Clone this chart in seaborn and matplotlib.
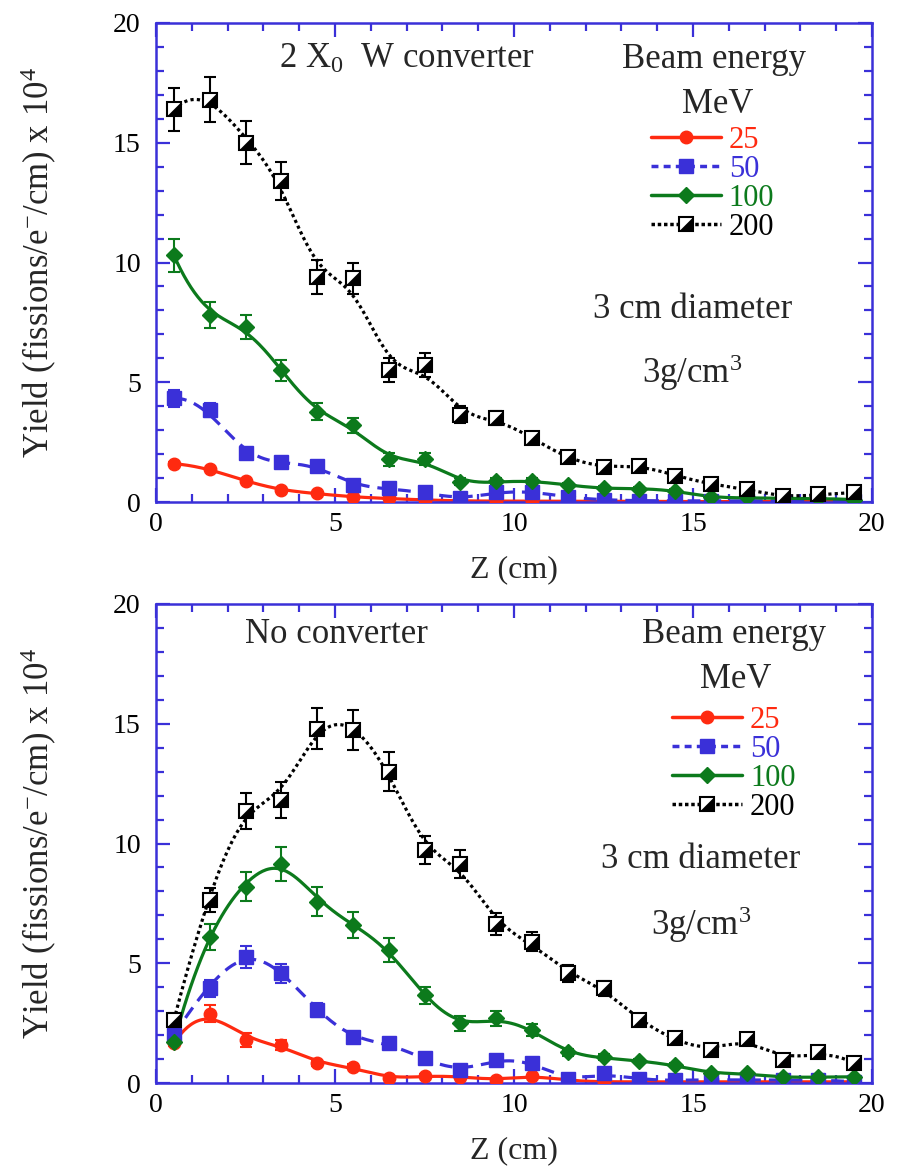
import numpy as np
import pandas as pd
import seaborn as sns
import matplotlib
matplotlib.use("Agg")
import matplotlib.pyplot as plt
from matplotlib.lines import Line2D
from matplotlib.legend_handler import HandlerTuple
from matplotlib.ticker import MultipleLocator

# ---------------- data ----------------
z = [0.5, 1.5, 2.5, 3.5, 4.5, 5.5, 6.5, 7.5, 8.5, 9.5,
     10.5, 11.5, 12.5, 13.5, 14.5, 15.5, 16.5, 17.5, 18.5, 19.5]
energies = ["25", "50", "100", "200"]

# top panel: 2 X0 W converter
top_25 = [1.6, 1.37, 0.88, 0.52, 0.36, 0.22, 0.15, 0.09, 0.05, 0.04,
          0.04, 0.03, 0.03, 0.03, 0.02, 0.02, 0.02, 0.02, 0.02, 0.02]
top_25_err = [0.08, 0.07, 0.06, 0.05, 0.04, 0.03, 0.03, 0.02, 0.02, 0.02,
              0.02, 0.02, 0.02, 0.02, 0.02, 0.02, 0.02, 0.02, 0.02, 0.02]
top_50 = [4.33, 3.84, 2.03, 1.68, 1.5, 0.73, 0.57, 0.41, 0.15, 0.4,
          0.42, 0.2, 0.1, 0.06, 0.05, 0.05, 0.05, 0.05, 0.05, 0.04]
top_50_err = [0.35, 0.3, 0.2, 0.15, 0.12, 0.1, 0.08, 0.07, 0.06, 0.1,
              0.1, 0.08, 0.06, 0.05, 0.05, 0.05, 0.05, 0.05, 0.05, 0.05]
top_100 = [10.3, 7.8, 7.3, 5.5, 3.77, 3.2, 1.78, 1.8, 0.85, 0.87,
           0.87, 0.71, 0.57, 0.56, 0.47, 0.2, 0.19, 0.15, 0.15, 0.1]
top_100_err = [0.7, 0.55, 0.5, 0.45, 0.35, 0.32, 0.28, 0.25, 0.15, 0.15,
               0.12, 0.1, 0.08, 0.08, 0.07, 0.05, 0.05, 0.05, 0.05, 0.05]
top_200 = [16.4, 16.8, 15.0, 13.4, 9.4, 9.35, 5.5, 5.72, 3.65, 3.5,
           2.67, 1.87, 1.47, 1.52, 1.1, 0.75, 0.55, 0.24, 0.33, 0.4]
top_200_err = [0.9, 0.95, 0.9, 0.8, 0.7, 0.65, 0.5, 0.5, 0.35, 0.3,
               0.25, 0.2, 0.15, 0.15, 0.12, 0.1, 0.1, 0.08, 0.08, 0.08]

# bottom panel: no converter
bot_25 = [1.66, 2.9, 1.8, 1.59, 0.85, 0.68, 0.22, 0.3, 0.27, 0.13,
          0.3, 0.1, 0.06, 0.05, 0.05, 0.05, 0.05, 0.05, 0.05, 0.05]
bot_25_err = [0.1, 0.35, 0.3, 0.2, 0.12, 0.1, 0.06, 0.06, 0.05, 0.04,
              0.05, 0.03, 0.03, 0.03, 0.03, 0.03, 0.03, 0.03, 0.03, 0.03]
bot_50 = [2.0, 3.95, 5.27, 4.58, 3.05, 1.93, 1.66, 1.03, 0.54, 0.96,
          0.85, 0.15, 0.4, 0.15, 0.12, 0.14, 0.12, 0.12, 0.12, 0.05]
bot_50_err = [0.1, 0.35, 0.45, 0.4, 0.3, 0.2, 0.15, 0.1, 0.08, 0.1,
              0.1, 0.05, 0.06, 0.05, 0.05, 0.05, 0.05, 0.05, 0.05, 0.05]
bot_100 = [1.73, 6.1, 8.2, 9.14, 7.57, 6.6, 5.55, 3.67, 2.49, 2.7,
           2.21, 1.28, 1.08, 0.92, 0.74, 0.42, 0.4, 0.24, 0.26, 0.26]
bot_100_err = [0.15, 0.55, 0.6, 0.7, 0.6, 0.55, 0.5, 0.35, 0.3, 0.3,
               0.25, 0.15, 0.12, 0.1, 0.08, 0.06, 0.06, 0.05, 0.05, 0.05]
bot_200 = [2.63, 7.64, 11.37, 11.8, 14.8, 14.74, 13.0, 9.73, 9.14, 6.65,
           5.9, 4.58, 3.95, 2.63, 1.87, 1.38, 1.85, 0.98, 1.31, 0.82]
bot_200_err = [0.3, 0.5, 0.75, 0.75, 0.85, 0.85, 0.8, 0.6, 0.6, 0.45,
               0.4, 0.35, 0.3, 0.2, 0.15, 0.12, 0.12, 0.1, 0.1, 0.08]

# ---------------- style ----------------
sns.set_theme(style="ticks")
plt.rcParams["font.family"] = ["Liberation Serif", "DejaVu Serif"]
plt.rcParams["mathtext.fontset"] = "custom"
plt.rcParams["mathtext.rm"] = "Liberation Serif"
plt.rcParams["mathtext.it"] = "Liberation Serif:italic"
plt.rcParams["mathtext.bf"] = "Liberation Serif:bold"

RED = "#ff2a10"
BLUE = "#3a30d8"
GREEN = "#0c7a1c"
BLACK = "#000000"
AXBLUE = "#3a30d8"

colors = {"25": RED, "50": BLUE, "100": GREEN, "200": BLACK}
lstyles = {"25": "-", "50": (0, (4, 2.5)), "100": "-", "200": (0, (1, 1))}
half_tri = [(1, 1), (1, -1), (-1, -1), (1, 1)]


def smooth(x, y, grid, bw=0.85):
    x = np.asarray(x, float)
    y = np.asarray(y, float)
    out = []
    for g in grid:
        w = np.sqrt(np.exp(-0.5 * ((x - g) / bw) ** 2))
        A = np.vstack([np.ones_like(x), x - g, (x - g) ** 2]).T
        coef, *_ = np.linalg.lstsq(A * w[:, None], y * w, rcond=None)
        out.append(coef[0])
    return np.array(out)


fig = plt.figure(figsize=(9.04, 11.73), dpi=100)
ax1 = fig.add_axes([0.1726, 0.572, 0.792, 0.4084])
ax2 = fig.add_axes([0.1726, 0.0767, 0.792, 0.4084])

panels = [
    (ax1, {"25": (top_25, top_25_err), "50": (top_50, top_50_err),
           "100": (top_100, top_100_err), "200": (top_200, top_200_err)}),
    (ax2, {"25": (bot_25, bot_25_err), "50": (bot_50, bot_50_err),
           "100": (bot_100, bot_100_err), "200": (bot_200, bot_200_err)}),
]

grid = np.linspace(0.5, 19.5, 400)


def make_handles():
    return [
        Line2D([], [], color=RED, lw=2.5, marker="o", ms=9),
        Line2D([], [], color=BLUE, lw=2.5, ls=(0, (2, 1.5)), marker="s", ms=10),
        Line2D([], [], color=GREEN, lw=2.5, marker="D", ms=8),
        (Line2D([], [], color=BLACK, lw=2.5, ls=(0, (1, 0.8)), marker="s",
                ms=10, mfc="white", mec="black", mew=1.5),
         Line2D([], [], ls="none", marker=half_tri, ms=10, mfc="black",
                mec="black", mew=0.5)),
    ]


for ax, series in panels:
    for e in energies:
        y, err = series[e]
        c = colors[e]
        fit = smooth(z, y, grid)
        df = pd.DataFrame({"z": grid, "y": fit})
        sns.lineplot(data=df, x="z", y="y", ax=ax, color=c, lw=2.3,
                     linestyle=lstyles[e], zorder=2, legend=False)
        ax.errorbar(z, y, yerr=err, fmt="none", ecolor=c, elinewidth=1.5,
                    capsize=4, capthick=1.5, zorder=3)
        if e == "25":
            ax.plot(z, y, ls="none", marker="o", ms=9, color=c, zorder=4)
        elif e == "50":
            ax.plot(z, y, ls="none", marker="s", ms=10, color=c, zorder=4)
        elif e == "100":
            ax.plot(z, y, ls="none", marker="D", ms=8, color=c, zorder=4)
        else:
            ax.plot(z, y, ls="none", marker="s", ms=10, mfc="white",
                    mec="black", mew=1.5, zorder=5)
            ax.plot(z, y, ls="none", marker=half_tri, ms=10, mfc="black",
                    mec="black", mew=0.5, zorder=6)

    ax.set_xlim(0, 20)
    ax.set_ylim(0, 20)
    ax.xaxis.set_major_locator(MultipleLocator(5))
    ax.xaxis.set_minor_locator(MultipleLocator(1))
    ax.yaxis.set_major_locator(MultipleLocator(5))
    ax.yaxis.set_minor_locator(MultipleLocator(1))
    ax.tick_params(which="both", direction="in", top=True, right=True,
                   color=AXBLUE, width=1.6, labelcolor="black", labelsize=20)
    ax.tick_params(which="major", length=10)
    ax.tick_params(which="minor", length=6)
    ax.tick_params(axis="x", pad=7)
    ax.tick_params(axis="y", pad=11)
    for s in ax.spines.values():
        s.set_color(AXBLUE)
        s.set_linewidth(1.8)
    ax.set_xlabel("Z (cm)", fontsize=23, labelpad=13)
    ax.set_ylabel(r"Yield (fissions/e$^{-}$/cm) x 10$^{4}$", fontsize=25,
                  labelpad=39)

# ---------------- texts & legends ----------------
tfs = 25
ax1.text(7.0, 18.12, r"2 X$_{0}$  W converter", fontsize=tfs, ha="center",
         va="baseline")
ax1.text(15.59, 18.12, "Beam energy", fontsize=tfs, ha="center", va="baseline")
ax1.text(15.7, 16.24, "MeV", fontsize=tfs, ha="center", va="baseline")
ax1.text(15.0, 7.68, "3 cm diameter", fontsize=tfs, ha="center", va="baseline")
ax1.text(14.97, 4.97, r"3g/cm$^{3}$", fontsize=tfs, ha="center", va="baseline")

ax2.text(5.03, 18.38, "No converter", fontsize=tfs, ha="center", va="baseline")
ax2.text(16.15, 18.36, "Beam energy", fontsize=tfs, ha="center", va="baseline")
ax2.text(16.2, 16.48, "MeV", fontsize=tfs, ha="center", va="baseline")
ax2.text(15.22, 8.96, "3 cm diameter", fontsize=tfs, ha="center", va="baseline")
ax2.text(15.22, 6.18, r"3g/cm$^{3}$", fontsize=tfs, ha="center", va="baseline")

for ax, anchor in [(ax1, (0.691, 0.664)), (ax2, (0.7207, 0.667))]:
    leg = ax.legend(make_handles(), energies, loc="center left",
                    bbox_to_anchor=anchor, borderaxespad=0, borderpad=0,
                    frameon=False, fontsize=22, handlelength=2.3,
                    handletextpad=0.25, labelspacing=0.0, numpoints=1,
                    handler_map={tuple: HandlerTuple(ndivide=1)})
    for txt, e in zip(leg.get_texts(), energies):
        txt.set_color(colors[e])

fig.savefig("out.png", dpi=100)
